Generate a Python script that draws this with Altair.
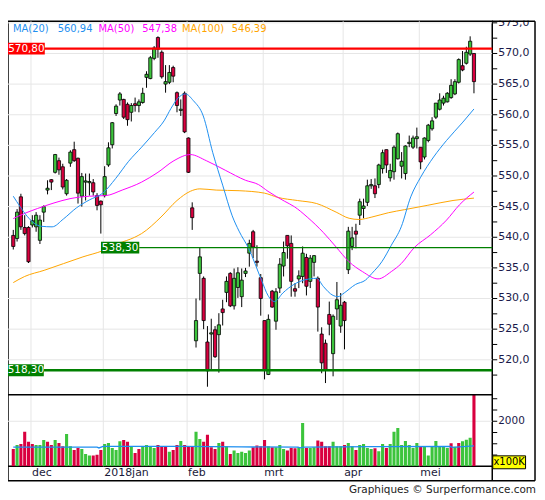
import altair as alt
import pandas as pd

# ---------------- data ----------------
opens = [
    540.3, 539.8, 546.6, 541.6, 541.6, 542.0, 541.7, 539.5, 544.1, 547.7,
    549.4, 550.6, 552.5, 551.5, 547.1, 552.1, 554.3, 552.9, 546.7, 549.0,
    548.9, 548.9, 546.8, 545.9, 546.8, 551.8, 555.1, 560.2, 562.4, 562.5,
    561.7, 560.4, 561.8, 561.5, 562.0, 566.1, 565.9, 569.2, 572.6, 570.2,
    565.0, 565.3, 567.7, 563.6, 560.7, 563.5, 556.2, 544.8, 523.1, 534.1,
    533.3, 522.9, 524.2, 524.9, 524.1, 528.3, 531.0, 534.1, 528.8, 531.8,
    530.3, 534.1, 537.4, 540.9, 536.1, 533.4, 526.4, 517.6, 531.2, 526.3,
    531.7, 535.3, 540.3, 539.0, 531.6, 533.2, 533.6, 536.7, 532.8, 535.9,
    533.3, 524.2, 522.7, 527.4, 521.0, 528.3, 525.5, 529.4, 534.7, 538.5,
    541.0, 543.6, 544.7, 545.7, 548.4, 548.4, 548.6, 551.2, 554.3, 549.7,
    550.7, 552.8, 551.6, 550.4, 555.3, 554.7, 556.1, 554.7, 553.1, 555.8,
    557.7, 559.6, 560.9, 561.9, 562.1, 562.8, 563.4, 565.3, 568.0, 568.4,
    569.9, 570.0]
highs = [
    541.2, 544.6, 547.1, 543.6, 541.8, 543.6, 544.1, 543.6, 545.2, 549.3,
    549.5, 553.6, 553.0, 552.0, 549.5, 554.2, 555.6, 553.0, 550.5, 550.4,
    550.4, 549.5, 547.2, 546.0, 551.6, 555.5, 558.8, 561.7, 563.7, 562.6,
    562.0, 561.9, 562.8, 562.5, 564.4, 567.1, 569.6, 571.2, 572.8, 570.5,
    568.1, 568.1, 568.0, 563.8, 562.5, 563.8, 556.3, 545.7, 530.0, 538.3,
    533.6, 525.5, 526.7, 525.5, 527.6, 529.8, 533.6, 534.3, 534.9, 535.1,
    534.9, 535.0, 539.6, 541.2, 538.7, 534.0, 526.4, 527.4, 531.4, 531.7,
    536.6, 539.3, 540.3, 540.3, 532.5, 534.6, 538.5, 537.3, 537.1, 537.1,
    533.6, 525.3, 523.3, 529.5, 527.4, 532.7, 530.9, 529.6, 541.7, 541.7,
    542.2, 546.3, 546.3, 549.4, 549.5, 549.6, 552.0, 554.3, 554.3, 552.0,
    555.0, 557.1, 553.9, 555.0, 556.6, 556.6, 557.9, 554.7, 556.3, 558.5,
    559.6, 561.9, 563.5, 563.1, 563.7, 565.8, 565.8, 569.2, 570.4, 571.1,
    572.8, 570.0]
lows = [
    538.0, 539.3, 541.2, 540.3, 535.8, 541.6, 540.9, 538.9, 542.5, 547.0,
    547.7, 550.4, 550.2, 547.8, 546.8, 551.5, 552.3, 545.5, 545.0, 546.0,
    546.8, 546.8, 544.4, 540.6, 546.5, 551.5, 554.5, 559.8, 561.5, 559.3,
    558.2, 558.9, 560.5, 560.4, 561.8, 564.4, 565.8, 568.9, 569.3, 565.9,
    563.6, 565.0, 565.3, 560.4, 559.8, 557.0, 550.5, 541.2, 522.0, 529.7,
    525.0, 515.6, 518.2, 520.3, 517.9, 525.6, 529.4, 528.6, 528.2, 530.1,
    528.6, 533.5, 535.2, 536.6, 535.2, 527.2, 516.8, 517.5, 528.5, 524.9,
    530.9, 533.6, 536.5, 530.3, 530.3, 531.7, 532.5, 530.5, 531.7, 533.6,
    524.6, 517.8, 516.2, 524.0, 517.3, 526.5, 524.4, 521.7, 534.0, 537.9,
    538.2, 542.0, 543.1, 545.1, 547.9, 546.4, 548.0, 550.4, 550.5, 549.1,
    549.4, 552.7, 549.6, 549.4, 554.7, 554.4, 554.5, 551.1, 552.7, 555.5,
    557.4, 559.3, 560.7, 561.5, 562.0, 562.6, 563.2, 565.1, 567.1, 568.2,
    569.6, 563.5]
closes = [
    538.5, 544.1, 541.7, 540.6, 536.0, 542.7, 543.6, 542.8, 545.0, 548.0,
    549.0, 553.5, 551.0, 548.2, 549.3, 553.9, 552.5, 547.2, 549.9, 549.2,
    549.1, 547.4, 545.2, 545.3, 549.9, 554.6, 558.7, 561.4, 563.4, 559.6,
    559.2, 561.5, 561.5, 562.1, 563.5, 566.6, 569.3, 570.9, 570.7, 566.2,
    565.4, 566.9, 566.3, 561.5, 560.9, 557.2, 550.6, 543.2, 526.4, 536.8,
    526.4, 518.2, 524.4, 520.5, 525.7, 527.7, 532.8, 528.8, 533.3, 534.2,
    533.0, 534.5, 539.0, 538.4, 535.9, 530.0, 518.4, 526.6, 528.6, 531.1,
    535.6, 537.5, 538.6, 532.8, 531.2, 533.7, 537.4, 532.0, 536.6, 537.0,
    528.6, 519.5, 518.4, 525.8, 527.1, 529.8, 528.9, 526.4, 541.0, 539.9,
    540.5, 545.8, 545.1, 548.4, 548.6, 547.1, 551.8, 553.8, 551.8, 550.9,
    554.7, 556.9, 552.4, 554.9, 555.5, 556.2, 556.4, 552.3, 556.2, 558.3,
    559.0, 561.9, 562.4, 562.7, 563.5, 564.8, 565.4, 569.0, 567.3, 570.2,
    572.0, 565.4]

# volume (x100K) and bar colour (g = up, r = down)
volumes = [
    770, 947, 992, 1539, 1095, 992, 947, 947, 1169, 1095,
    947, 1169, 1036, 888, 1436, 888, 725, 814, 770, 548,
    474, 474, 518, 725, 992, 1036, 814, 725, 1110, 1169,
    1095, 873, 592, 770, 888, 947, 873, 814, 947, 873,
    873, 651, 725, 947, 1125, 947, 873, 873, 1539, 1214,
    1095, 1406, 844, 770, 1036, 1095, 888, 548, 696, 592,
    651, 592, 696, 844, 918, 888, 1169, 888, 844, 844,
    947, 770, 696, 814, 799, 844, 1924, 814, 814, 844,
    1140, 1095, 888, 888, 1095, 888, 888, 947, 1036, 888,
    725, 947, 992, 814, 770, 799, 666, 992, 814, 992,
    1539, 1702, 947, 1125, 947, 814, 1036, 873, 873, 474,
    873, 1125, 873, 888, 814, 1021, 873, 1036, 1110, 1184,
    1273, 3400]
vol_dir = list(
    "rgrrrrgggr" "rgrrggrrgg" "grrrgggggr" "rgrrggggrr"
    "rgrrgrrrgg" "rrrrgrgrgg" "gggrrrrgrg" "ggrrrggrgg"
    "rrrrgggrgg" "rggggrggrg" "gggggggrgg" "gggggrgrgg" "gr")

# moving averages (index, value)
ma20_idx = [0, 7.3, 10.2, 13.2, 16.6, 20, 23.5, 26.9, 30.3, 33.7, 37.1, 39.6,
            41.4, 43.1, 45.2, 47.3, 49.9, 52.4, 55, 57.5, 59.3, 61.8, 65.2,
            66.9, 68.6, 70.8, 73.7, 76.3, 79.7, 81.4, 84, 85.3, 86.9, 89.9,
            92.5, 94.2, 96.8, 99.3, 101.9, 104.4, 107, 110.4, 113.8, 118.1, 121]
ma20_val = [546.7, 541.8, 541.7, 543.0, 544.8, 546.1, 547.2, 549.6, 552.4,
            554.7, 557.1, 559.0, 561.0, 562.6, 563.4, 562.3, 559.8, 553.8,
            548.5, 543.5, 541.0, 538.2, 533.0, 530.5, 529.5, 530.9, 532.3,
            533.0, 533.3, 532.0, 530.5, 530.3, 530.9, 532.3, 533.0, 534.1,
            536.0, 538.7, 541.7, 546.6, 549.8, 553.1, 555.8, 558.8, 560.94]
ma50_idx = [0, 3, 6.4, 10.7, 14.9, 20, 24.3, 28.6, 33.7, 38, 42.2, 46.5,
            50.7, 55.8, 61, 64.4, 66.9, 71.2, 73.8, 77.2, 81.4, 84.8, 88.2,
            91.7, 95.8, 99.3, 101.9, 105.3, 109.6, 113.8, 117.2, 121]
ma50_val = [543.05, 543.9, 544.7, 545.6, 546.3, 546.7, 546.8, 547.7, 549.0,
            550.6, 552.5, 553.5, 552.5, 550.9, 549.3, 548.6, 547.5, 545.9,
            545.0, 543.3, 540.8, 538.4, 536.0, 534.4, 533.2, 534.4, 535.7,
            538.3, 540.4, 542.8, 545.3, 547.38]
ma100_idx = [0, 3, 8.1, 13.2, 18.3, 23.5, 27.7, 31.9, 33.7, 38.8, 43, 46.5,
             49, 53.3, 59.3, 66, 69.5, 74.6, 79.7, 84.8, 88.2, 90.8, 94.2,
             98.5, 102.7, 108.7, 115.5, 121]
ma100_val = [532.6, 533.6, 534.6, 535.7, 536.8, 537.8, 539.0, 540.0, 540.6,
             543.3, 546.0, 547.5, 547.9, 547.7, 547.6, 547.2, 546.5, 546.0,
             545.5, 544.1, 543.1, 542.9, 543.3, 544.0, 544.5, 545.2, 546.0,
             546.39]
vol_ma_idx = [0, 22, 22.5, 23.6, 45, 60, 74.8, 75.3, 76.4, 95, 114.8, 115.3, 121]
vol_ma_val = [850, 850, 815, 880, 885, 860, 850, 815, 850, 870, 880, 840, 905]

level_vals = [570.8, 538.3, 518.3]
level_text = ["570,80", "538,30", "518,30"]

price_grid = [520, 525, 530, 535, 540, 545, 550, 555, 560, 565, 570, 575]
price_ticks = [517.5 + 2.5 * k for k in range(24)]
vol_ticks = [500, 1000, 1500, 2000, 2500, 3000]
vol_labels = [2000]
month_pos = [4.65, 23.65, 45.65, 65.65, 86.65, 106.65]
month_names = ["dec", "2018jan", "feb", "mrt", "apr", "mei"]

# ---------------- build ----------------
W, H = 487, 447.5
P_BOTTOM = 375.5
FONT = "DejaVu Sans"
AXIS_TXT = "#1a1a4a"
GREEN_C, RED_C = "#3cc43c", "#d9003f"
BLUE, MAGENTA, ORANGE = "#1e8ff0", "#ff00ff", "#ffa500"
LEVEL_GREEN = "#008000"

n = len(opens)
candles = pd.DataFrame({
    "i": list(range(n)), "o": opens, "h": highs, "l": lows, "c": closes,
    "dir": ["up" if c >= o else "down" for o, c in zip(opens, closes)],
})
vol = pd.DataFrame({"i": list(range(n)), "v": volumes,
                    "d": ["up" if d == "g" else "down" for d in vol_dir]})

XS = alt.Scale(domain=[-0.08, 124.5], nice=False, zero=False)
PS = alt.Scale(domain=[514.3, 575.25], range=[P_BOTTOM, 0], nice=False, zero=False)
VS = alt.Scale(domain=[0, 3180], range=[H, P_BOTTOM], nice=False, zero=True, clamp=True)
dir_scale = alt.Scale(domain=["up", "down"], range=[GREEN_C, RED_C])

one = pd.DataFrame({"k": [0]})


def px(field):
    return alt.Y(field, type="quantitative", scale=PS, axis=None)


def vx(field):
    return alt.Y(field, type="quantitative", scale=VS, axis=None)


def xx(field):
    return alt.X(field, type="quantitative", scale=XS, axis=None)


# --- price panel ---
grid_h = alt.Chart(pd.DataFrame({"g": price_grid})).mark_rule(
    color="#e6e6e6", strokeWidth=1).encode(y=px("g"), x=alt.value(0), x2=alt.value(W))
grid_v = alt.Chart(pd.DataFrame({"p": month_pos})).mark_rule(
    color="#e6e6e6", strokeWidth=1).encode(x=xx("p"), y=alt.value(0), y2=alt.value(H))
wicks = alt.Chart(candles).mark_rule(color="black", strokeWidth=1, clip=True).encode(
    x=xx("i"), y=px("l"), y2="h:Q")
bodies = alt.Chart(candles).mark_bar(size=3.2, stroke="black", strokeWidth=0.8, clip=True).encode(
    x=xx("i"), y=px("o"), y2="c:Q",
    color=alt.Color("dir:N", scale=dir_scale, legend=None))


def ma_line(idx, vals, color):
    return alt.Chart(pd.DataFrame({"i": idx, "v": vals})).mark_line(
        color=color, strokeWidth=1, interpolate="monotone", clip=True).encode(
        x=xx("i"), y=px("v"))


ma_lines = [ma_line(ma100_idx, ma100_val, ORANGE),
            ma_line(ma50_idx, ma50_val, MAGENTA),
            ma_line(ma20_idx, ma20_val, BLUE)]


def level_layers(k, color, line_x0, line_w, box_x0, box_x1):
    d = pd.DataFrame({"v": [level_vals[k]], "t": [level_text[k]]})
    d["lo"] = d["v"] - 0.97
    d["hi"] = d["v"] + 0.97
    line = alt.Chart(d).mark_rule(color=color, strokeWidth=line_w).encode(
        y=px("v"), x=alt.value(line_x0), x2=alt.value(W))
    box = alt.Chart(d).mark_rect(color=color).encode(
        y=px("lo"), y2="hi:Q", x=alt.value(box_x0), x2=alt.value(box_x1))
    txt = alt.Chart(d).mark_text(color="white", font=FONT, fontSize=10.5,
                                 align="center", baseline="middle").encode(
        y=px("v"), x=alt.value((box_x0 + box_x1) / 2), text="t:N")
    return [line, box, txt]


levels = (level_layers(0, "#ff0000", 0, 2.4, 0, 37)
          + level_layers(1, LEVEL_GREEN, 132, 1.4, 93.5, 132)
          + level_layers(2, LEVEL_GREEN, 0, 2.6, 0, 36))

legend_items = [("MA(20)", BLUE, 5), (f"{ma20_val[-1]:.2f}".replace(".", ","), BLUE, 50),
                ("MA(50)", MAGENTA, 91), (f"{ma50_val[-1]:.2f}".replace(".", ","), MAGENTA, 135),
                ("MA(100)", ORANGE, 175), (f"{ma100_val[-1]:.2f}".replace(".", ","), ORANGE, 225)]
legend = [alt.Chart(one).mark_text(color=c, font=FONT, fontSize=10, align="left",
                                   baseline="middle").encode(
    x=alt.value(x), y=alt.value(8), text=alt.value(t)) for t, c, x in legend_items]

# right price axis: ticks and labels
p_ticks = alt.Chart(pd.DataFrame({"t": price_ticks})).mark_rule(
    color="black", strokeWidth=1).encode(y=px("t"), x=alt.value(W), x2=alt.value(W + 5))
p_lab_df = pd.DataFrame({"t": price_grid,
                         "s": [f"{v:.1f}".replace(".", ",") for v in price_grid]})
p_labels = alt.Chart(p_lab_df).mark_text(
    font=FONT, fontSize=11, color=AXIS_TXT, align="left", baseline="middle").encode(
    y=px("t"), x=alt.value(W + 6), text="s:N")

price = alt.layer(grid_h, grid_v, wicks, bodies, *ma_lines, *levels, *legend,
                  p_ticks, p_labels)

# --- volume panel ---
grid_vol = alt.Chart(pd.DataFrame({"g": vol_labels})).mark_rule(
    color="#e6e6e6", strokeWidth=1).encode(y=vx("g"), x=alt.value(0), x2=alt.value(W))
vol_bars = alt.Chart(vol).mark_bar(size=3.1, clip=True).encode(
    x=xx("i"), y=vx("v"),
    color=alt.Color("d:N", scale=dir_scale, legend=None))
vol_ma = alt.Chart(pd.DataFrame({"i": vol_ma_idx, "v": vol_ma_val})).mark_line(
    color=BLUE, strokeWidth=1.3).encode(x=xx("i"), y=vx("v"))
v_ticks = alt.Chart(pd.DataFrame({"t": vol_ticks})).mark_rule(
    color="black", strokeWidth=1).encode(y=vx("t"), x=alt.value(W), x2=alt.value(W + 5))
v_labels = alt.Chart(pd.DataFrame({"t": vol_labels, "s": [str(v) for v in vol_labels]})).mark_text(
    font=FONT, fontSize=10.5, color=AXIS_TXT, align="left", baseline="middle").encode(
    y=vx("t"), x=alt.value(W + 6), text="s:N")
m_labels = alt.Chart(pd.DataFrame({"p": month_pos, "s": month_names})).mark_text(
    font=FONT, fontSize=11, color="#1a1a3a", align="left", baseline="middle", dx=1).encode(
    x=xx("p"), y=alt.value(H + 7), text="s:N")


def rule(x, x2, y, y2, color="black", w=1.5):
    return alt.Chart(one).mark_rule(color=color, strokeWidth=w).encode(
        x=alt.value(x), x2=alt.value(x2), y=alt.value(y), y2=alt.value(y2))


cover = alt.Chart(one).mark_rect(color="white").encode(
    x=alt.value(488), x2=alt.value(532), y=alt.value(-12), y2=alt.value(-0.8))
frame = [
    rule(0, W, P_BOTTOM, P_BOTTOM),          # separator price / volume
    rule(W, 530, 0, 0),                      # top border over axis area
    rule(530, 530, 0, 462),                  # outer right border
    rule(0, 530, 462, 462),                  # bottom border
    rule(0, 0, H, 462),                      # left border of date band
    rule(W, W, H, 462),                      # axis line through date band
]
unit_box = alt.Chart(one).mark_rect(color="#ffff00", stroke="black", strokeWidth=1).encode(
    x=alt.value(487.5), x2=alt.value(520.5), y=alt.value(437), y2=alt.value(450))
unit_txt = alt.Chart(one).mark_text(font=FONT, fontSize=10, color="black",
                                    align="center", baseline="middle").encode(
    x=alt.value(504), y=alt.value(443.5), text=alt.value("x100K"))
footer = alt.Chart(one).mark_text(font=FONT, fontSize=10.5, color="#222222",
                                  align="right", baseline="middle").encode(
    x=alt.value(531), y=alt.value(471), text=alt.value("Graphiques \u00a9 Surperformance.com"))

volume = alt.layer(grid_vol, vol_bars, vol_ma, v_ticks, v_labels, m_labels, cover,
                   *frame, unit_box, unit_txt, footer)

chart = alt.layer(price, volume).resolve_scale(y="independent").properties(
    width=W, height=H,
    padding={"left": 0, "top": 12, "right": 45, "bottom": 30},
    autosize=alt.AutoSizeParams(type="none"),
    background="white",
).configure_view(stroke="black", strokeWidth=1.5)

chart.save("out.html", embed_options={"renderer": "svg", "actions": False})
